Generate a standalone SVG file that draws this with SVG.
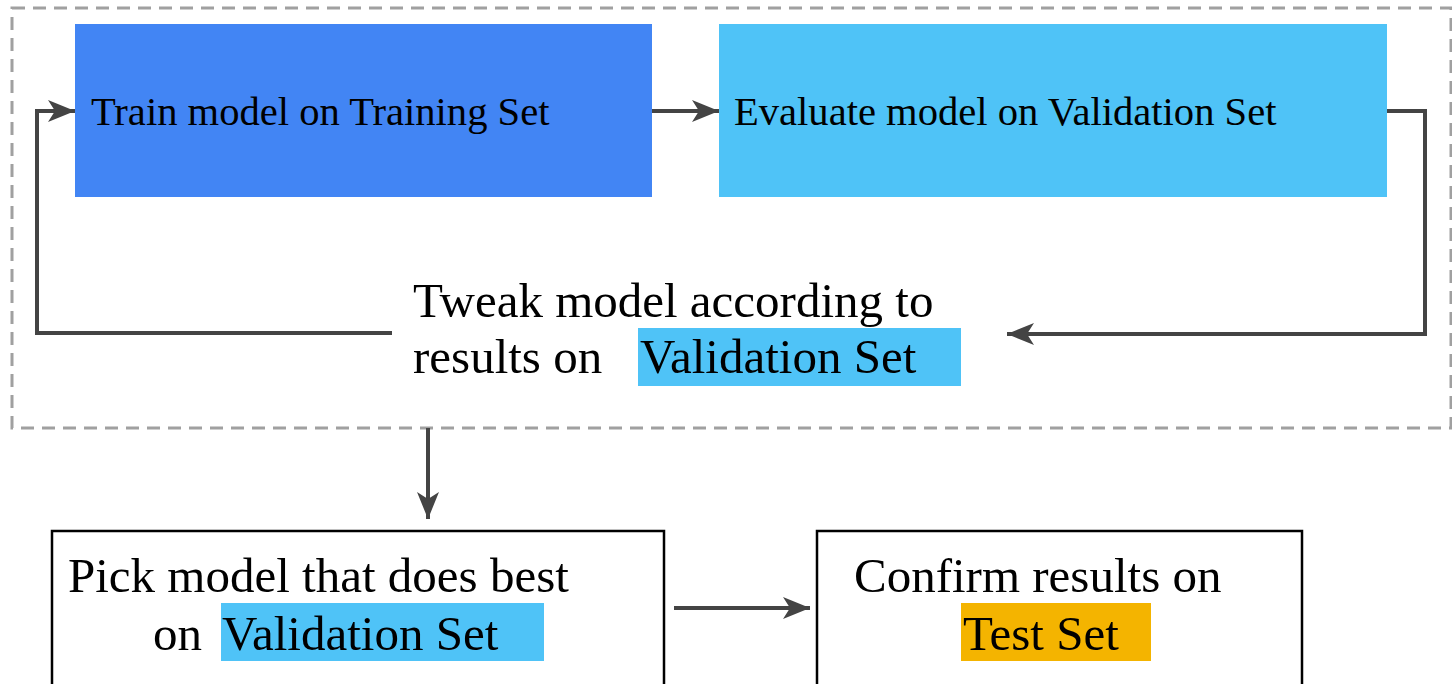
<svg xmlns="http://www.w3.org/2000/svg" width="1452" height="684" viewBox="0 0 1452 684">
<style>
.t{font-family:'Liberation Serif','Tinos','Times New Roman','DejaVu Serif',serif;fill:#000}
.s{font-size:40.6px}
.l{font-size:49px}
.c{fill:none;stroke:#444;stroke-width:4}
</style>
<defs>
<marker id="ah" markerUnits="userSpaceOnUse" markerWidth="30" markerHeight="24" refX="27" refY="11" orient="auto" viewBox="0 0 30 24">
<path d="M27,11 L0,0 L7,11 L0,22 Z" fill="#444"/>
</marker>
</defs>
<rect width="1452" height="684" fill="#fff"/>
<g id="loop-frame">
<rect x="12" y="8" width="1439" height="420" fill="none" stroke="#a0a0a0" stroke-width="3" stroke-dasharray="13 8"/>
</g>
<g id="train">
<rect x="75" y="24" width="577" height="173" fill="#4285f4"/>
<text class="t s" x="91" y="125">Train model on Training Set</text>
</g>
<g id="evaluate">
<rect x="719" y="24" width="668" height="173" fill="#4fc3f7"/>
<text class="t s" x="734" y="125">Evaluate model on Validation Set</text>
</g>
<g id="tweak">
<rect x="638" y="328" width="323" height="58" fill="#4fc3f7"/>
<text class="t l" x="413" y="317">Tweak model according to</text>
<text class="t l" x="413" y="373">results on</text>
<text class="t l" x="640" y="373">Validation Set</text>
</g>
<g id="pick">
<rect x="52" y="531" width="612" height="170" fill="#fff" stroke="#000" stroke-width="2.5"/>
<rect x="221" y="603" width="323" height="58" fill="#4fc3f7"/>
<text class="t l" x="68" y="592">Pick model that does best</text>
<text class="t l" x="153" y="650">on</text>
<text class="t l" x="222" y="650">Validation Set</text>
</g>
<g id="confirm">
<rect x="817" y="531" width="485" height="170" fill="#fff" stroke="#000" stroke-width="2.5"/>
<rect x="961" y="603" width="190" height="58" fill="#f4b400"/>
<text class="t l" x="854" y="592">Confirm results on</text>
<text class="t l" x="963" y="650">Test Set</text>
</g>
<g id="connectors">
<path class="c" d="M652,111 L719,111" marker-end="url(#ah)"/>
<path class="c" d="M1387,111 L1425,111 L1425,334 L1007,334" marker-end="url(#ah)"/>
<path class="c" d="M392,333 L37,333 L37,111 L75,111" marker-end="url(#ah)"/>
<path class="c" d="M428,428 L428,519" marker-end="url(#ah)"/>
<path class="c" d="M674,608 L810,608" marker-end="url(#ah)"/>
</g>
</svg>
